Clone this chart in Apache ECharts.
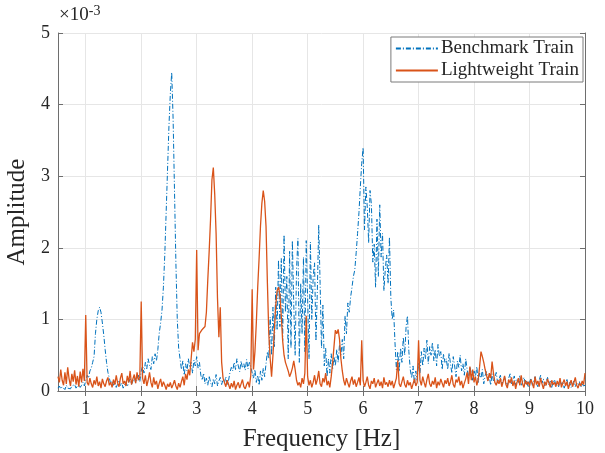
<!DOCTYPE html>
<html>
<head>
<meta charset="utf-8">
<script src="https://cdn.jsdelivr.net/npm/echarts@6/dist/echarts.min.js"></script>
<style>
  html, body { margin: 0; padding: 0; background: #fff; }
  #chart { width: 605px; height: 453px; }
</style>
</head>
<body>
<div id="chart"></div>
<script>
// spectrum sampled every 0.025 Hz from 0.5 Hz to 10 Hz, amplitudes in units of 1e-3
var freqStart = 0.5;
var freqStep = 0.025;
var xTicks = [1, 2, 3, 4, 5, 6, 7, 8, 9, 10];
var yTicks = [0, 1, 2, 3, 4, 5];

var benchmarkAmp = [
    0.04,0.07,0.03,0.06,0.05,0.02,0.08,0.04,0.06,0.03,0.07,0.05,0.09,0.04,0.06,0.10,0.05,0.08,0.12,0.07,
    0.15,0.22,0.18,0.28,0.32,0.40,0.48,0.80,1.00,1.12,1.17,1.10,0.95,0.78,0.58,0.40,0.26,0.18,0.10,0.14,
    0.08,0.12,0.05,0.10,0.15,0.07,0.11,0.04,0.09,0.13,0.06,0.12,0.17,0.09,0.14,0.20,0.11,0.16,0.22,0.13,
    0.28,0.35,0.25,0.40,0.31,0.45,0.36,0.30,0.48,0.38,0.52,0.42,0.58,0.81,0.95,1.13,1.45,1.90,2.50,3.10,
    3.70,4.15,4.45,3.80,2.80,1.80,1.00,0.60,0.45,0.30,0.42,0.22,0.38,0.28,0.45,0.33,0.40,0.25,0.43,0.35,
    0.48,0.32,0.40,0.22,0.15,0.25,0.10,0.18,0.08,0.21,0.12,0.06,0.17,0.10,0.23,0.07,0.14,0.19,0.09,0.16,
    0.11,0.20,0.08,0.15,0.26,0.33,0.28,0.40,0.30,0.45,0.35,0.27,0.42,0.32,0.38,0.29,0.44,0.31,0.40,0.34,
    0.25,0.18,0.30,0.12,0.22,0.08,0.28,0.15,0.32,0.20,0.38,0.55,0.45,1.03,0.50,1.17,0.62,1.45,0.85,1.83,
    0.90,1.85,0.70,2.18,1.10,1.60,0.45,1.95,0.60,2.10,1.20,0.50,1.70,2.13,0.40,1.50,0.80,1.87,0.55,2.10,
    1.30,0.45,2.08,1.00,1.60,1.79,0.70,1.40,2.32,1.50,0.60,1.20,0.35,0.60,0.20,0.45,0.25,0.52,0.30,0.48,
    0.35,0.58,0.40,0.65,0.50,0.72,0.45,1.05,0.80,1.23,1.10,1.31,1.45,1.60,1.69,1.93,2.20,2.49,2.85,3.18,
    3.40,2.25,2.85,2.57,2.07,2.80,2.60,1.80,2.05,1.45,2.40,1.60,2.60,1.87,2.20,1.40,1.70,1.90,1.50,2.15,
    1.30,1.00,1.13,0.67,0.30,0.55,0.27,0.60,0.40,0.75,0.50,0.90,1.05,0.55,0.30,0.18,0.35,0.10,0.28,0.15,
    0.40,0.25,0.55,0.35,0.60,0.45,0.71,0.38,0.62,0.50,0.68,0.42,0.58,0.35,0.65,0.48,0.55,0.30,0.52,0.40,
    0.45,0.30,0.53,0.38,0.25,0.48,0.35,0.20,0.42,0.33,0.50,0.28,0.38,0.22,0.45,0.30,0.18,0.34,0.25,0.15,
    0.28,0.20,0.34,0.12,0.25,0.18,0.30,0.10,0.22,0.27,0.15,0.20,0.08,0.24,0.14,0.19,0.26,0.11,0.17,0.22,
    0.09,0.15,0.20,0.12,0.06,0.18,0.24,0.10,0.14,0.21,0.08,0.16,0.12,0.22,0.07,0.13,0.19,0.10,0.15,0.05,
    0.12,0.18,0.08,0.14,0.20,0.10,0.06,0.15,0.22,0.11,0.17,0.07,0.13,0.19,0.09,0.14,0.05,0.12,0.16,0.08,
    0.11,0.06,0.15,0.09,0.13,0.04,0.10,0.16,0.07,0.12,0.05,0.09,0.14,0.06,0.11,0.08,0.13,0.05,0.10,0.07,
    0.08
];

var lightweightAmp = [
    0.20,0.12,0.30,0.15,0.08,0.26,0.10,0.33,0.17,0.07,0.24,0.13,0.29,0.09,0.21,0.06,0.27,0.12,0.31,0.14,
    1.06,0.12,0.08,0.18,0.10,0.05,0.15,0.09,0.20,0.07,0.13,0.04,0.17,0.10,0.06,0.14,0.19,0.08,0.12,0.05,
    0.16,0.09,0.22,0.11,0.06,0.18,0.25,0.10,0.14,0.07,0.21,0.12,0.28,0.09,0.17,0.23,0.11,0.26,0.15,0.20,
    1.25,0.18,0.10,0.22,0.07,0.15,0.26,0.12,0.05,0.19,0.09,0.14,0.03,0.11,0.17,0.06,0.13,0.08,0.02,0.10,
    0.06,0.12,0.04,0.09,0.15,0.07,0.02,0.11,0.05,0.13,0.20,0.08,0.24,0.16,0.30,0.22,0.45,0.68,0.55,0.72,
    1.97,0.57,0.80,0.78,0.86,0.84,0.90,1.10,1.55,1.95,2.40,2.95,3.12,2.75,2.20,1.30,0.75,1.17,0.40,0.18,
    0.12,0.06,0.15,0.09,0.03,0.11,0.05,0.14,0.02,0.08,0.12,0.04,0.10,0.16,0.06,0.03,0.09,0.13,0.05,0.22,
    1.42,0.30,0.55,0.95,1.45,1.85,2.30,2.62,2.80,2.65,2.30,1.50,0.80,0.45,0.20,0.50,0.85,1.20,1.40,1.45,
    1.35,1.05,0.70,0.50,0.40,0.34,0.28,0.20,0.25,0.32,0.42,0.30,0.15,0.08,0.12,0.05,0.18,0.10,0.25,1.05,
    0.20,0.08,0.15,0.05,0.12,0.22,0.09,0.16,0.28,0.10,0.06,0.18,0.12,0.25,0.08,0.14,0.05,0.20,0.39,0.62,
    0.85,0.80,0.86,0.72,0.45,0.28,0.15,0.08,0.18,0.11,0.05,0.14,0.20,0.09,0.16,0.06,0.12,0.19,0.08,0.71,
    0.15,0.06,0.12,0.20,0.08,0.03,0.14,0.10,0.18,0.05,0.11,0.16,0.07,0.13,0.04,0.19,0.09,0.12,0.06,0.15,
    0.08,0.14,0.04,0.11,0.18,0.43,0.10,0.06,0.13,0.20,0.09,0.05,0.15,0.08,0.12,0.03,0.10,0.17,0.07,0.12,
    0.71,0.15,0.08,0.20,0.12,0.05,0.16,0.24,0.10,0.06,0.14,0.09,0.19,0.04,0.13,0.08,0.17,0.11,0.05,0.15,
    0.10,0.18,0.07,0.13,0.22,0.09,0.05,0.16,0.12,0.20,0.08,0.14,0.04,0.11,0.17,0.26,0.10,0.34,0.15,0.30,
    0.12,0.20,0.08,0.16,0.34,0.55,0.48,0.40,0.30,0.22,0.14,0.25,0.18,0.41,0.25,0.12,0.08,0.15,0.10,0.18,
    0.06,0.13,0.21,0.09,0.04,0.16,0.11,0.19,0.07,0.14,0.03,0.12,0.18,0.08,0.22,0.10,0.05,0.15,0.09,0.13,
    0.07,0.16,0.11,0.04,0.20,0.09,0.14,0.06,0.18,0.10,0.03,0.13,0.08,0.17,0.11,0.05,0.15,0.09,0.12,0.06,
    0.14,0.08,0.18,0.05,0.11,0.16,0.07,0.13,0.03,0.10,0.15,0.06,0.12,0.19,0.08,0.04,0.11,0.07,0.14,0.09,
    0.25
];

function toPairs(amp) {
    return amp.map(function (v, i) {
        return [+(freqStart + i * freqStep).toFixed(3), v];
    });
}

var serif = 'Liberation Serif';
var frameColor = '#6e6e6e';

var chart = echarts.init(document.getElementById('chart'));

var option = {
    animation: false,
    backgroundColor: '#fff',
    grid: { left: 58, right: 20, top: 33, bottom: 62, outerBoundsMode: 'none' },
    legend: {
        right: 22,
        top: 37,
        orient: 'vertical',
        itemWidth: 42,
        itemHeight: 10,
        itemGap: 3,
        padding: [2, 4, 2, 4],
        backgroundColor: '#fff',
        borderColor: '#7a7a7a',
        borderWidth: 1,
        itemStyle: { opacity: 0 },
        textStyle: { fontFamily: serif, fontSize: 19, color: '#262626', padding: [0, 0, 0, -2] },
        data: ['Benchmark Train', 'Lightweight Train']
    },
    graphic: [{
        type: 'text',
        left: 59,
        top: 4,
        style: {
            text: '×10{s|-3}',
            fontFamily: serif,
            fontSize: 19,
            fill: '#262626',
            rich: { s: { fontFamily: serif, fontSize: 14, verticalAlign: 'top', fill: '#262626', padding: [0, 0, 8, 0] } }
        }
    }],
    xAxis: [{
        type: 'value',
        min: 0.5,
        max: 10,
        name: 'Frequency [Hz]',
        nameLocation: 'middle',
        nameGap: 36,
        nameTextStyle: { fontFamily: serif, fontSize: 25, color: '#262626' },
        axisLine: { lineStyle: { color: frameColor } },
        axisTick: { inside: true, length: 5, customValues: xTicks, lineStyle: { color: frameColor } },
        axisLabel: { customValues: xTicks, margin: 9, fontFamily: serif, fontSize: 18, color: '#262626' },
        splitLine: { show: true, lineStyle: { color: '#e6e6e6' } }
    }, {
        type: 'value',
        position: 'top',
        min: 0.5,
        max: 10,
        axisLine: { show: true, lineStyle: { color: frameColor } },
        axisTick: { inside: true, length: 5, customValues: xTicks, lineStyle: { color: frameColor } },
        axisLabel: { show: false },
        splitLine: { show: false }
    }],
    yAxis: [{
        type: 'value',
        min: 0,
        max: 5,
        interval: 1,
        name: 'Amplitude',
        nameLocation: 'middle',
        nameGap: 18,
        nameTextStyle: { fontFamily: serif, fontSize: 25, color: '#262626' },
        axisLine: { show: true, lineStyle: { color: frameColor } },
        axisTick: { show: true, inside: true, length: 5, lineStyle: { color: frameColor } },
        axisLabel: { margin: 8, fontFamily: serif, fontSize: 18, color: '#262626' },
        splitLine: { show: true, lineStyle: { color: '#e6e6e6' } }
    }, {
        type: 'value',
        position: 'right',
        min: 0,
        max: 5,
        interval: 1,
        axisLine: { show: true, lineStyle: { color: frameColor } },
        axisTick: { show: true, inside: true, length: 5, lineStyle: { color: frameColor } },
        axisLabel: { show: false },
        splitLine: { show: false }
    }],
    series: [{
        name: 'Benchmark Train',
        type: 'line',
        showSymbol: false,
        symbol: 'none',
        data: toPairs(benchmarkAmp),
        lineStyle: { color: '#0072BD', width: 1, type: [5, 2, 1, 2] },
        itemStyle: { color: '#0072BD' },
        z: 2
    }, {
        name: 'Lightweight Train',
        type: 'line',
        showSymbol: false,
        symbol: 'none',
        data: toPairs(lightweightAmp),
        lineStyle: { color: '#D95319', width: 1.3 },
        itemStyle: { color: '#D95319' },
        z: 3
    }]
};

chart.setOption(option);
</script>
</body>
</html>
